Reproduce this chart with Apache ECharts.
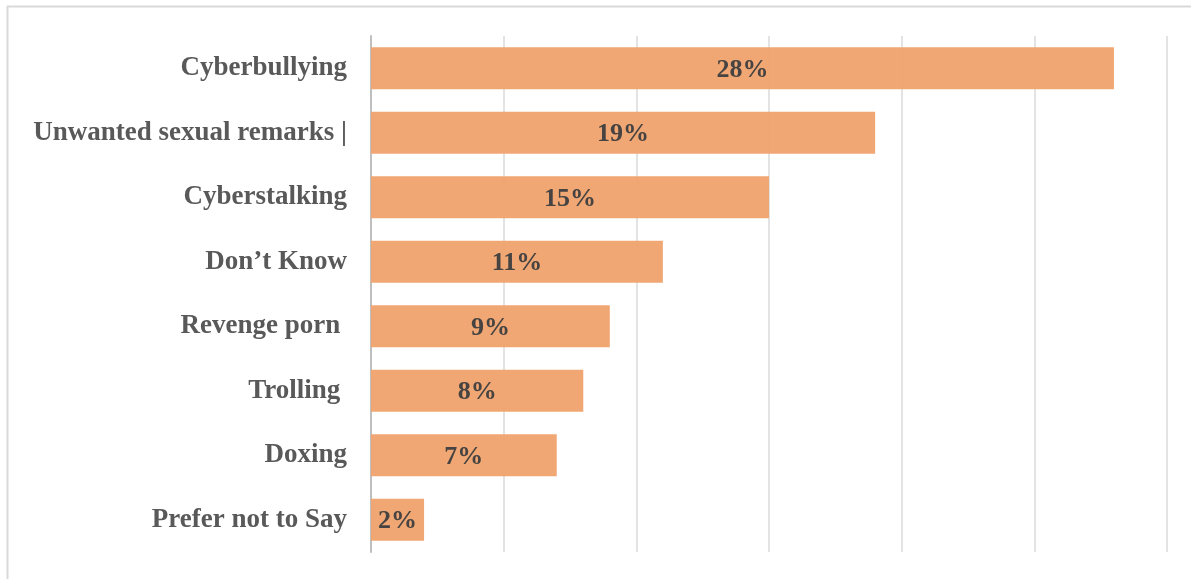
<!DOCTYPE html>
<html>
<head>
<meta charset="utf-8">
<script src="https://cdn.jsdelivr.net/npm/echarts@6/dist/echarts.min.js"></script>
<style>
  html, body { margin: 0; padding: 0; background: #fff; }
  #chart { width: 1191px; height: 579px; }
</style>
</head>
<body>
<div id="chart"></div>
<script>
// Forms of online abuse experienced (share of respondents, %)
const categories = [
  'Cyberbullying',
  'Unwanted sexual remarks |',
  'Cyberstalking',
  'Don\u2019t Know',
  'Revenge porn ',
  'Trolling ',
  'Doxing',
  'Prefer not to Say'
];
const values = [28, 19, 15, 11, 9, 8, 7, 2];
const axisMax = 30;
const axisStep = 5;

const serif = '"Liberation Serif", "DejaVu Serif", serif';
const chart = echarts.init(document.getElementById('chart'), null, { renderer: 'canvas' });

chart.setOption({
  animation: false,
  backgroundColor: '#ffffff',
  grid: { left: 371, right: 24, top: 36, bottom: 27 },
  xAxis: {
    type: 'value',
    min: 0,
    max: axisMax,
    interval: axisStep,
    axisLabel: { show: false },
    axisTick: { show: false },
    axisLine: { show: false },
    splitLine: { show: true, lineStyle: { color: '#e3e3e3', width: 2 } }
  },
  yAxis: {
    type: 'category',
    inverse: true,
    data: categories,
    axisTick: { show: false },
    axisLine: { show: true, lineStyle: { color: '#bfbfbf', width: 2 } },
    axisLabel: {
      margin: 24,
      padding: [4, 0, 0, 0],
      color: '#595959',
      fontFamily: serif,
      fontWeight: 'bold',
      fontSize: 27
    }
  },
  series: [{
    type: 'bar',
    data: values,
    barWidth: 42,
    itemStyle: { color: '#f0a46e', opacity: 0.97 },
    label: {
      show: true,
      position: 'inside',
      offset: [0, 2],
      formatter: '{c}%',
      color: '#404040',
      fontFamily: serif,
      fontWeight: 'bold',
      fontSize: 26
    }
  }],
  graphic: [
    { type: 'line', shape: { x1: 7, y1: 6.5, x2: 1191, y2: 6.5 }, style: { stroke: '#d9d9d9', lineWidth: 2 } },
    { type: 'line', shape: { x1: 7.5, y1: 6, x2: 7.5, y2: 579 }, style: { stroke: '#d9d9d9', lineWidth: 2 } }
  ]
});
</script>
</body>
</html>
